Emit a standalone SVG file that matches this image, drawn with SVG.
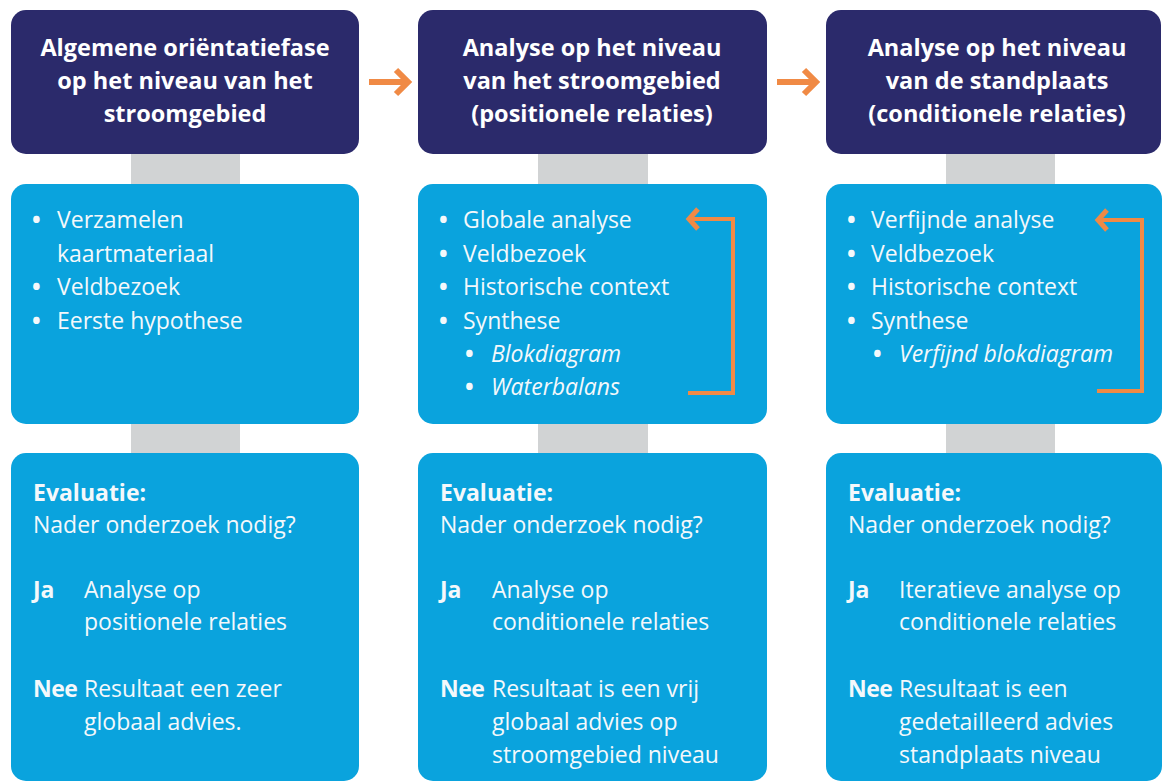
<svg xmlns="http://www.w3.org/2000/svg" width="1163" height="784" viewBox="0 0 1163 784">
<style>
.hdr{fill:#2b2a6b}
.box{fill:#0aa3dd}
.stem{fill:#d1d3d4}
.ht{font-family:"Open Sans",sans-serif;font-weight:bold;font-size:23.5px;fill:#ffffff;text-anchor:middle}
.t{font-family:"Open Sans",sans-serif;font-size:23px;fill:#f4f8fb}
.bl{font-family:"Open Sans",sans-serif;font-size:23px;font-weight:bold;fill:#f4f8fb}
.b{font-weight:bold}
.i{font-style:italic}
.or{stroke:#f08a45;fill:none;stroke-linecap:butt;stroke-linejoin:miter}
</style>
<rect width="1163" height="784" fill="#ffffff"/>
<g id="connectors">
<rect class="stem" x="131" y="150" width="109" height="40"/>
<rect class="stem" x="131" y="420" width="109" height="40"/>
<rect class="stem" x="538" y="150" width="110" height="40"/>
<rect class="stem" x="538" y="420" width="110" height="40"/>
<rect class="stem" x="946" y="150" width="109" height="40"/>
<rect class="stem" x="946" y="420" width="109" height="40"/>
<path class="or" stroke-width="6" d="M369 82H406M396 70L408 82L396 94"/>
<path class="or" stroke-width="6" d="M777 82H814M804 70L816 82L804 94"/>
</g>
<g id="col1-header"><rect class="hdr" x="11" y="10" width="348" height="144" rx="15"/>
<text class="ht" x="185" y="56">Algemene oriëntatiefase</text>
<text class="ht" x="185" y="89">op het niveau van het</text>
<text class="ht" x="185" y="122">stroomgebied</text></g>
<g id="col2-header"><rect class="hdr" x="418" y="10" width="349" height="144" rx="15"/>
<text class="ht" x="592" y="56">Analyse op het niveau</text>
<text class="ht" x="592" y="89">van het stroomgebied</text>
<text class="ht" x="592" y="122">(positionele relaties)</text></g>
<g id="col3-header"><rect class="hdr" x="826" y="10" width="335" height="144" rx="15"/>
<text class="ht" x="997" y="56">Analyse op het niveau</text>
<text class="ht" x="997" y="89">van de standplaats</text>
<text class="ht" x="997" y="122">(conditionele relaties)</text></g>
<g id="col1-activities"><rect class="box" x="11" y="184" width="348" height="240" rx="15"/>
<text class="bl" x="32" y="228">•</text><text class="t" x="57" y="228">Verzamelen</text>
<text class="t" x="57" y="262">kaartmateriaal</text>
<text class="bl" x="32" y="295">•</text><text class="t" x="57" y="295">Veldbezoek</text>
<text class="bl" x="32" y="329">•</text><text class="t" x="57" y="329">Eerste hypothese</text></g>
<g id="col2-activities"><rect class="box" x="418" y="184" width="349" height="240" rx="15"/>
<text class="bl" x="439" y="228">•</text><text class="t" x="463" y="228">Globale analyse</text>
<text class="bl" x="439" y="262">•</text><text class="t" x="463" y="262">Veldbezoek</text>
<text class="bl" x="439" y="295">•</text><text class="t" x="463" y="295">Historische context</text>
<text class="bl" x="439" y="329">•</text><text class="t" x="463" y="329">Synthese</text>
<text class="bl" x="465" y="362">•</text><text class="t i" x="491" y="362">Blokdiagram</text>
<text class="bl" x="465" y="395">•</text><text class="t i" x="491" y="395">Waterbalans</text>
<path class="or" stroke-width="4" d="M690 219H733V393H688"/>
<path class="or" stroke-width="5" d="M698 209L689 219L698 229"/></g>
<g id="col3-activities"><rect class="box" x="826" y="184" width="336" height="240" rx="15"/>
<text class="bl" x="847" y="228">•</text><text class="t" x="871" y="228">Verfijnde analyse</text>
<text class="bl" x="847" y="262">•</text><text class="t" x="871" y="262">Veldbezoek</text>
<text class="bl" x="847" y="295">•</text><text class="t" x="871" y="295">Historische context</text>
<text class="bl" x="847" y="329">•</text><text class="t" x="871" y="329">Synthese</text>
<text class="bl" x="873" y="362">•</text><text class="t i" x="899" y="362">Verfijnd blokdiagram</text>
<path class="or" stroke-width="4" d="M1099 220H1142V391H1097"/>
<path class="or" stroke-width="5" d="M1107 210L1098 220L1107 230"/></g>
<g id="col1-evaluation"><rect class="box" x="11" y="453" width="348" height="328" rx="15"/>
<text class="t b" x="33" y="501">Evaluatie:</text>
<text class="t" x="33" y="533">Nader onderzoek nodig?</text>
<text class="t b" x="33" y="598">Ja</text><text class="t" x="84" y="598">Analyse op</text>
<text class="t" x="84" y="630">positionele relaties</text>
<text class="t b" x="33" y="697" letter-spacing="-0.5">Nee</text><text class="t" x="84" y="697">Resultaat een zeer</text>
<text class="t" x="84" y="730">globaal advies.</text></g>
<g id="col2-evaluation"><rect class="box" x="418" y="453" width="349" height="328" rx="15"/>
<text class="t b" x="440" y="501">Evaluatie:</text>
<text class="t" x="440" y="533">Nader onderzoek nodig?</text>
<text class="t b" x="440" y="598">Ja</text><text class="t" x="492" y="598">Analyse op</text>
<text class="t" x="492" y="630">conditionele relaties</text>
<text class="t b" x="440" y="697" letter-spacing="-0.5">Nee</text><text class="t" x="492" y="697">Resultaat is een vrij</text>
<text class="t" x="492" y="730">globaal advies op</text>
<text class="t" x="492" y="763">stroomgebied niveau</text></g>
<g id="col3-evaluation"><rect class="box" x="826" y="453" width="336" height="328" rx="15"/>
<text class="t b" x="848" y="501">Evaluatie:</text>
<text class="t" x="848" y="533">Nader onderzoek nodig?</text>
<text class="t b" x="848" y="598">Ja</text><text class="t" x="899" y="598">Iteratieve analyse op</text>
<text class="t" x="899" y="630">conditionele relaties</text>
<text class="t b" x="848" y="697" letter-spacing="-0.5">Nee</text><text class="t" x="899" y="697">Resultaat is een</text>
<text class="t" x="899" y="730">gedetailleerd advies</text>
<text class="t" x="899" y="763">standplaats niveau</text></g>
</svg>
